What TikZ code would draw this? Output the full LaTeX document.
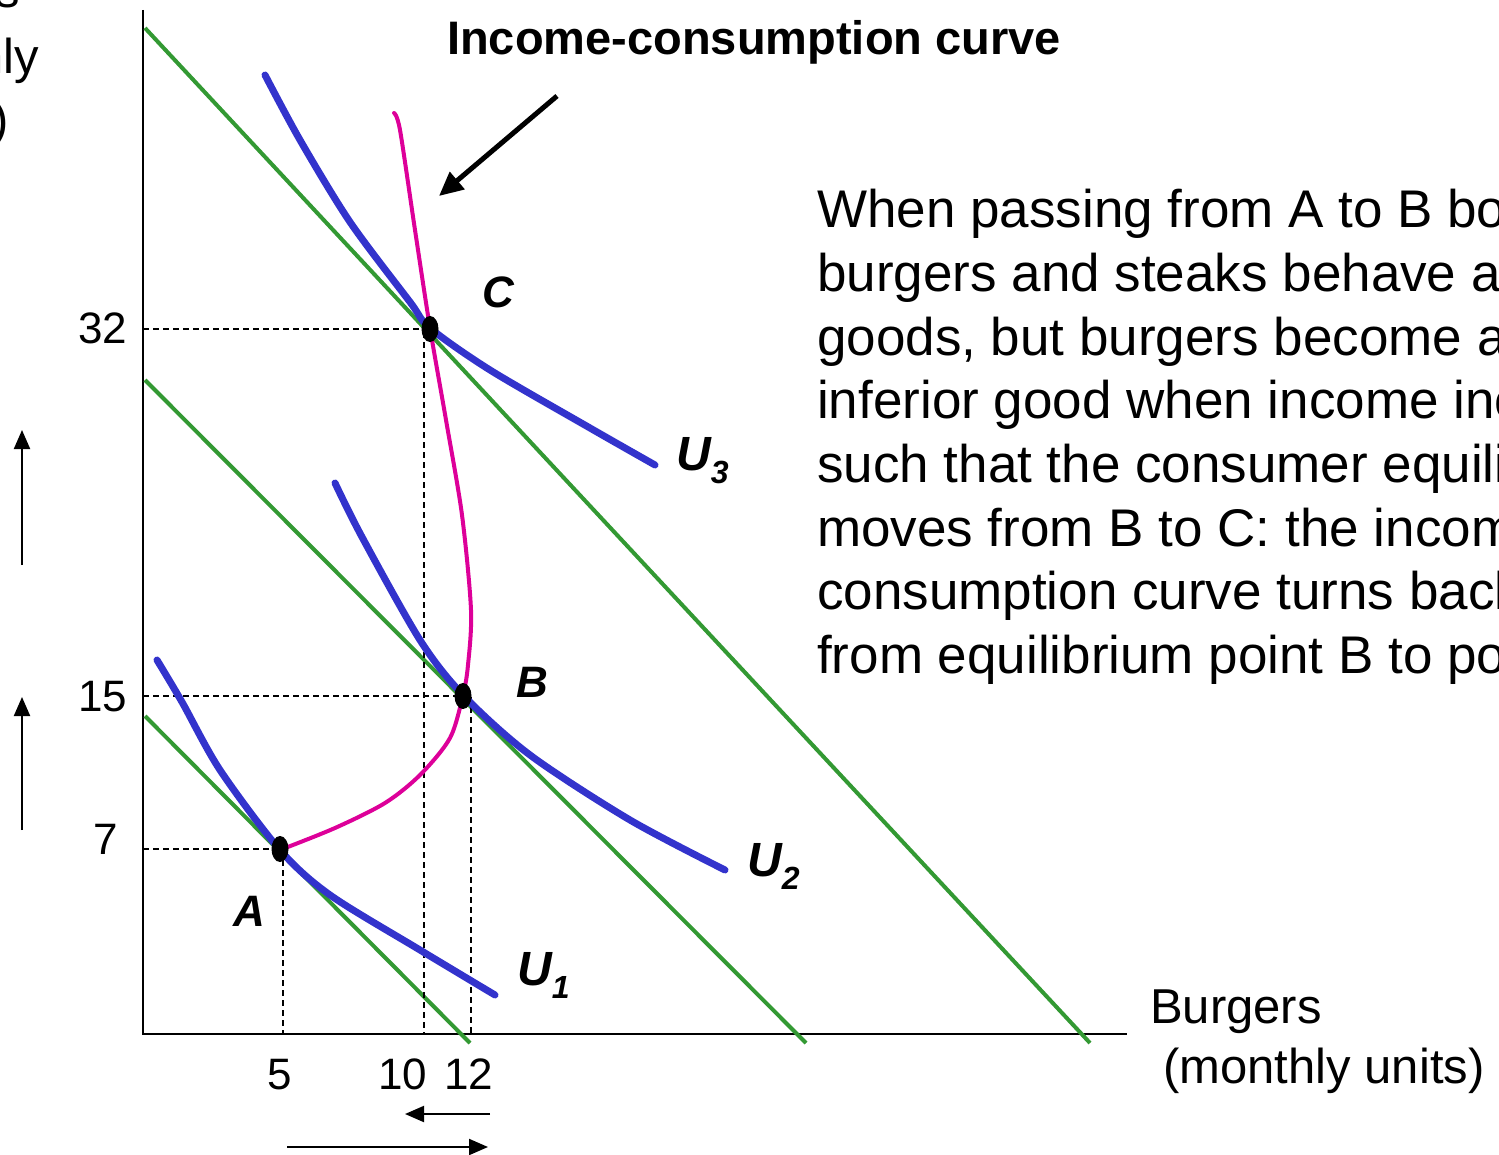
\documentclass[tikz,border=0pt]{standalone}
\usepackage{fontspec}
\setmainfont{Liberation Sans}
\usetikzlibrary{arrows.meta,shapes.geometric}
\definecolor{bgreen}{RGB}{51,153,51}
\definecolor{ublue}{RGB}{51,51,204}
\definecolor{iccmag}{RGB}{221,0,153}
\begin{document}
\begin{tikzpicture}[x=1pt,y=-1pt,
 axis/.style={line width=2.5pt},
 budget/.style={bgreen,line width=4pt},
 indiff/.style={ublue,line width=7pt,line cap=round,line join=round},
 icc/.style={iccmag,line width=4pt,line cap=round,line join=round},
 guide/.style={line width=1.5pt,dash pattern=on 6pt off 4pt},
 eqpt/.style={ellipse,fill=black,minimum width=17pt,minimum height=26pt,inner sep=0pt},
 ptlabel/.style={inner sep=0pt,anchor=base west,font=\fontsize{44}{50}\selectfont\bfseries\itshape},
 ulabel/.style={inner sep=0pt,anchor=base west,font=\fontsize{48}{52}\selectfont\bfseries\itshape},
 ticklab/.style={inner sep=0pt,anchor=base,font=\fontsize{44}{50}\selectfont},
 axlab/.style={inner sep=0pt,font=\fontsize{49}{58}\selectfont},
 body/.style={inner sep=0pt,anchor=base west,font=\fontsize{53}{63}\selectfont},
 bigarrow/.style={line width=2pt,-{Triangle[length=19pt,width=16pt]}}
]
\useasboundingbox (0,0) rectangle (1499,1155);
\clip (0,0) rectangle (1499,1155);

% cut-off vertical axis label
\node[axlab,anchor=base] (yl1) at (-55,8) {Steaks};
\node[axlab,anchor=base] (yl2) at (-55,74) {(monthly};
\node[axlab,anchor=base] (yl3) at (-51,137) {units)};

% axes
\coordinate (O) at (143,1034);
\coordinate (ytop) at (143,10);
\coordinate (xend) at (1127,1034);
\draw[axis] (ytop) -- (O) -- (xend);

% budget lines
\draw[budget] (145,716) -- (470,1043);
\draw[budget] (145,380) -- (806,1043);
\draw[budget] (145,28) -- (1090,1043);

% equilibrium points
\coordinate (A) at (280,849);
\coordinate (B) at (463,696);
\coordinate (C) at (430,329);

% guides
\draw[guide] (143,329) -- (C);
\draw[guide] (424,332) -- (424,1034);
\draw[guide] (143,696) -- (B);
\draw[guide] (471,697) -- (471,1034);
\draw[guide] (143,849) -- (A);
\draw[guide] (283,850) -- (283,1034);

% indifference curves
\draw[indiff] plot[smooth,tension=0.5] coordinates {(157,660) (182,702) (220,770) (280,850) (330,895) (420,950) (495,995)};
\draw[indiff] plot[smooth,tension=0.5] coordinates {(335,483) (362,537) (420,640) (463,695) (530,755) (630,820) (725,870)};
\draw[indiff] plot[smooth,tension=0.5] coordinates {(265,75) (300,140) (350,222) (410,302) (430,328) (490,370) (590,428) (655,465)};

% income-consumption curve
\draw[icc] plot[smooth,tension=0.5] coordinates {(394,113) (400,130) (415,230) (430,328) (446,420) (462,515) (471,610) (468,665) (463,695) (450,738) (420,775) (385,803) (335,828) (280,850)};

% points
\node[eqpt] (pA) at (A) {};
\node[eqpt] (pB) at (B) {};
\node[eqpt] (pC) at (C) {};

% point labels
\node[ptlabel] (lA) at (233,926) {A};
\node[ptlabel] (lB) at (516,697) {B};
\node[ptlabel] (lC) at (482,308) {C};

\node[ulabel] (u1) at (517,985) {U\raisebox{-0.28em}{\fontsize{32}{32}\selectfont 1}};
\node[ulabel] (u2) at (747,876) {U\raisebox{-0.28em}{\fontsize{32}{32}\selectfont 2}};
\node[ulabel] (u3) at (676,470) {U\raisebox{-0.28em}{\fontsize{32}{32}\selectfont 3}};

% tick labels
\node[ticklab] (t32) at (103,344) {32};
\node[ticklab] (t15) at (103,711) {15};
\node[ticklab] (t7) at (106,854) {7};
\node[ticklab] (t5) at (280,1089) {5};
\node[ticklab] (t10) at (403,1089) {10};
\node[ticklab] (t12) at (469,1089) {12};

% x axis label
\node[axlab,anchor=base west] (xl1) at (1150,1023) {Burgers};
\node[axlab,anchor=base west] (xl2) at (1163,1083) {(monthly units)};

% title and pointer arrow
\node[inner sep=0pt,anchor=base west,font=\fontsize{47}{52}\selectfont\bfseries] (title) at (447,55) {Income-consumption curve};
\coordinate (ar0) at (557,96);
\coordinate (ar1) at (439,196);
\draw[line width=5pt,-{Triangle[length=24pt,width=22pt]}] (ar0) -- (ar1);

% movement arrows
\coordinate (l1a) at (22,565); \coordinate (l1b) at (22,430);
\coordinate (l2a) at (22,830); \coordinate (l2b) at (22,697);
\draw[bigarrow] (l1a) -- (l1b);
\draw[bigarrow] (l2a) -- (l2b);
\coordinate (b1a) at (490,1114); \coordinate (b1b) at (405,1114);
\coordinate (b2a) at (287,1147); \coordinate (b2b) at (488,1147);
\draw[bigarrow] (b1a) -- (b1b);
\draw[bigarrow] (b2a) -- (b2b);

% explanatory text (cut off at the right edge)
\foreach \ln [count=\i from 0] in {When passing from A to B both,
  burgers and steaks behave as normal,
  {goods, but burgers become an},
  inferior good when income increases,
  such that the consumer equilibrium,
  moves from B to C: the income-,
  consumption curve turns backward,
  from equilibrium point B to point C.}
  \node[body] (txt\i) at (817,228+63.6*\i) {\ln};
\end{tikzpicture}
\end{document}
